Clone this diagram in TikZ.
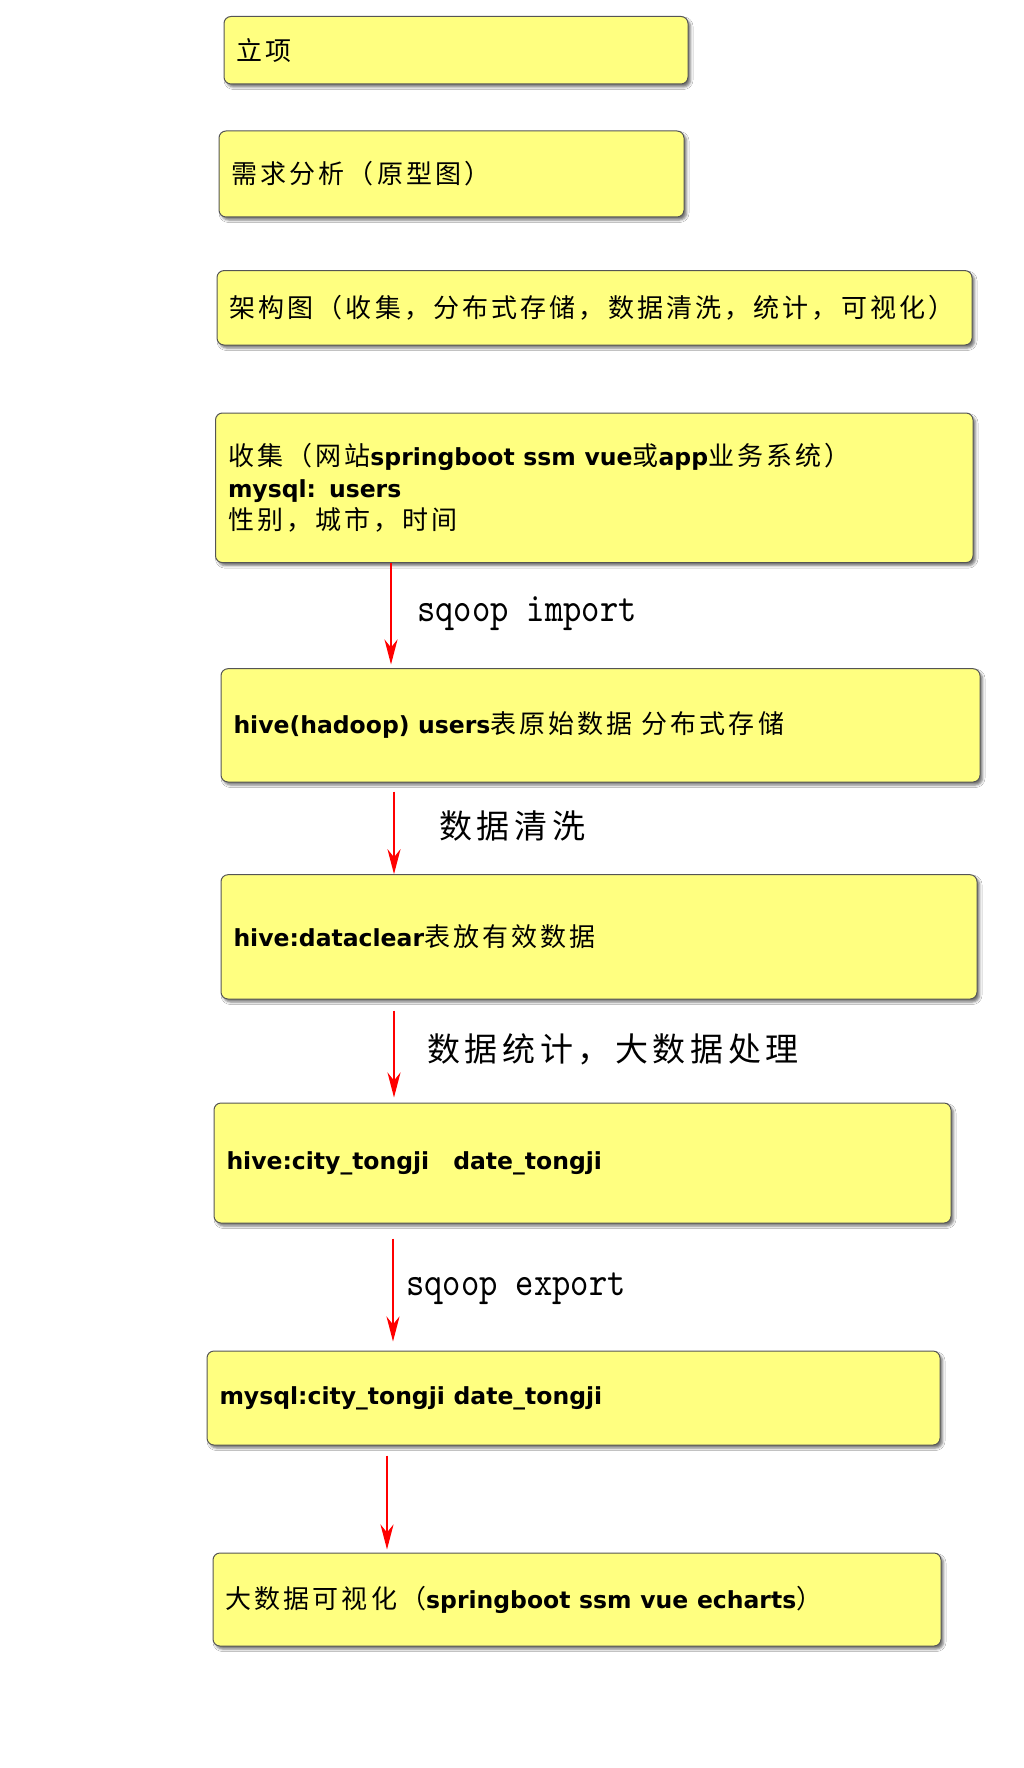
\documentclass[tikz,border=0pt]{standalone}
\usepackage{fontspec}
\setmainfont{DejaVu Sans}
\newfontfamily\cjkfont[LetterSpace=12]{Noto Sans CJK SC}
\newfontfamily\labfont[LetterSpace=14]{Noto Sans CJK SC}
\newfontfamily\sqfont[FakeStretch=0.85]{lmmono10-regular.otf}
\usetikzlibrary{shadows.blur,arrows.meta}
\definecolor{boxfill}{RGB}{255,255,128}
\definecolor{boxline}{RGB}{85,85,85}
\newcommand\Cj[1]{{\cjkfont #1}}
\newcommand\Bf[1]{{\fontsize{23.5}{32}\selectfont\bfseries #1}}
\tikzset{
  box/.style={draw=boxline, line width=1pt, fill=boxfill, rounded corners=7pt,
    blur shadow={shadow xshift=2.5pt, shadow yshift=-3pt, shadow blur radius=2.5pt, shadow opacity=55},
    inner xsep=12.5pt, inner ysep=0pt, align=left,
    font=\fontsize{26}{32}\selectfont},
  arr/.style={draw=red, line width=2.4pt, -{Stealth[length=25pt,width=13pt,inset=8pt]}},
  sqlab/.style={inner sep=0pt, font=\sqfont\fontsize{41}{41}\selectfont},
  cnlab/.style={inner sep=0pt, font=\labfont\fontsize{33}{33}\selectfont}
}
\begin{document}
\begin{tikzpicture}[x=1pt,y=-1pt]
\fill[white] (0,0) rectangle (1024,1768);
\useasboundingbox (0,0) rectangle (1024,1768);

\node[box, minimum width=464pt, minimum height=67.5pt, text width=439pt] (b1) at (456,50.25) {\Cj{立项}};
\node[box, minimum width=465pt, minimum height=86pt, text width=440pt] (b2) at (451.5,174) {\Cj{需求分析（原型图）}};
\node[box, minimum width=755pt, minimum height=74.4pt, text width=730pt] (b3) at (594.5,307.8) {\Cj{架构图（收集，分布式存储，数据清洗，统计，可视化）}};
\node[box, minimum width=757.5pt, minimum height=149.6pt, text width=732.5pt] (b4) at (594.25,487.8)
  {\Cj{收集（网站}\Bf{springboot ssm vue}\Cj{或}\Bf{app}\Cj{业务系统）}\\\Bf{mysql: users}\\\Cj{性别，城市，时间}};
\node[box, minimum width=759pt, minimum height=113.3pt, text width=734pt] (b5) at (600.5,725.35)
  {\Bf{hive(hadoop) users}\Cj{表原始数据 分布式存储}};
\node[box, minimum width=756pt, minimum height=124.3pt, text width=731pt] (b6) at (599,936.85)
  {\Bf{hive:dataclear}\Cj{表放有效数据}};
\node[box, minimum width=737pt, minimum height=120pt, text width=712pt] (b7) at (582.5,1163)
  {\Bf{hive:city\_tongji\hspace*{24pt}date\_tongji}};
\node[box, minimum width=733pt, minimum height=94pt, text width=708pt] (b8) at (573.5,1398)
  {\Bf{mysql:city\_tongji date\_tongji}};
\node[box, minimum width=728pt, minimum height=93pt, text width=703pt] (b9) at (577,1599.5)
  {\Cj{大数据可视化（}\Bf{springboot ssm vue echarts}\Cj{）}};

\coordinate (ax1) at (391,0);
\coordinate (ax2) at (394,0);
\coordinate (ax3) at (394,0);
\coordinate (ax4) at (393,0);
\coordinate (ax5) at (387,0);

\draw[arr, shorten >=3.7pt] (b4.south -| ax1) -- (b5.north -| ax1);
\draw[arr, shorten <=9pt] (b5.south -| ax2) -- (b6.north -| ax2);
\draw[arr, shorten <=11pt, shorten >=5pt] (b6.south -| ax3) -- (b7.north -| ax3);
\draw[arr, shorten <=15pt, shorten >=9pt] (b7.south -| ax4) -- (b8.north -| ax4);
\draw[arr, shorten <=10pt, shorten >=3pt] (b8.south -| ax5) -- (b9.north -| ax5);

\node[sqlab, anchor=base west] (l1) at (417,621.5) {sqoop import};
\node[cnlab, anchor=west] (l2) at (439,826) {数据清洗};
\node[cnlab, anchor=west] (l3) at (427,1049) {数据统计，大数据处理};
\node[sqlab, anchor=base west] (l4) at (406,1295) {sqoop export};
\end{tikzpicture}
\end{document}
